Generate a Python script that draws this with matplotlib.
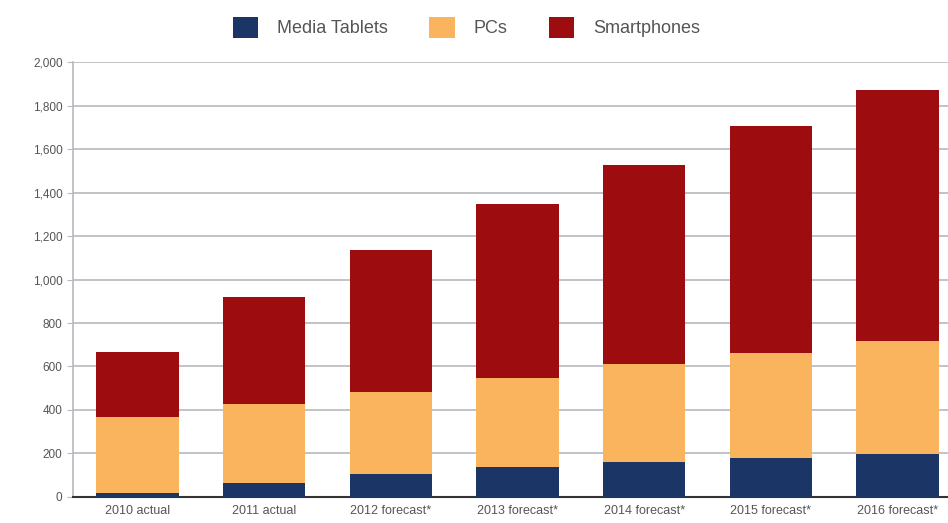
import numpy as np
import matplotlib.pyplot as plt

# Shipments (millions of units)
years = ["2010 actual", "2011 actual", "2012 forecast*", "2013 forecast*",
         "2014 forecast*", "2015 forecast*", "2016 forecast*"]
tablets = [20, 65, 103, 138, 161, 180, 197]
pcs = [346, 361, 381, 410, 449, 484, 522]
smartphones = [302, 494, 653, 799, 918, 1044, 1155]

navy = "#1b3566"
orange = "#fbb45e"
red = "#9d0c0e"

plt.rcParams['font.family'] = ['Liberation Sans', 'DejaVu Sans']

fig = plt.figure(figsize=(9.48, 5.23), dpi=100)
ax = fig.add_axes([0.077, 0.05, 0.923, 0.831])

x = np.arange(len(years))
w = 0.65
tab = np.array(tablets)
pc = np.array(pcs)
sp = np.array(smartphones)
b1 = ax.bar(x, tab, w, color=navy, label="Media Tablets", zorder=3)
b2 = ax.bar(x, pc, w, bottom=tab, color=orange, label="PCs", zorder=3)
b3 = ax.bar(x, sp, w, bottom=tab + pc, color=red, label="Smartphones", zorder=3)

ax.set_ylim(0, 2000)
ax.set_xlim(-0.51, 6.40)
ax.set_yticks(range(0, 2001, 200))
ax.set_yticklabels(["{:,}".format(v) for v in range(0, 2001, 200)])
ax.set_xticks(x)
ax.set_xticklabels(years)
ax.yaxis.grid(True, color="#b8b8c0", linewidth=1.2, zorder=0)
ax.tick_params(axis="y", length=4, color="#b8b8c0", labelsize=8.5, labelcolor="#555555")
ax.tick_params(axis="x", length=0, labelsize=9, labelcolor="#555555", pad=6)
for s in ["top", "right"]:
    ax.spines[s].set_visible(False)
ax.spines["left"].set_color("#b8b8c0")
ax.spines["left"].set_linewidth(1.2)
ax.spines["bottom"].set_color("#333333")
ax.spines["bottom"].set_linewidth(1.5)

fig.legend(handles=[b1, b2, b3], loc="center", bbox_to_anchor=(0.492, 0.948),
           ncol=3, frameon=False, fontsize=13, labelcolor="#555555",
           handlelength=1.4, handleheight=1.4, columnspacing=2.3, handletextpad=1.05)

fig.savefig("out.png", dpi=100)
